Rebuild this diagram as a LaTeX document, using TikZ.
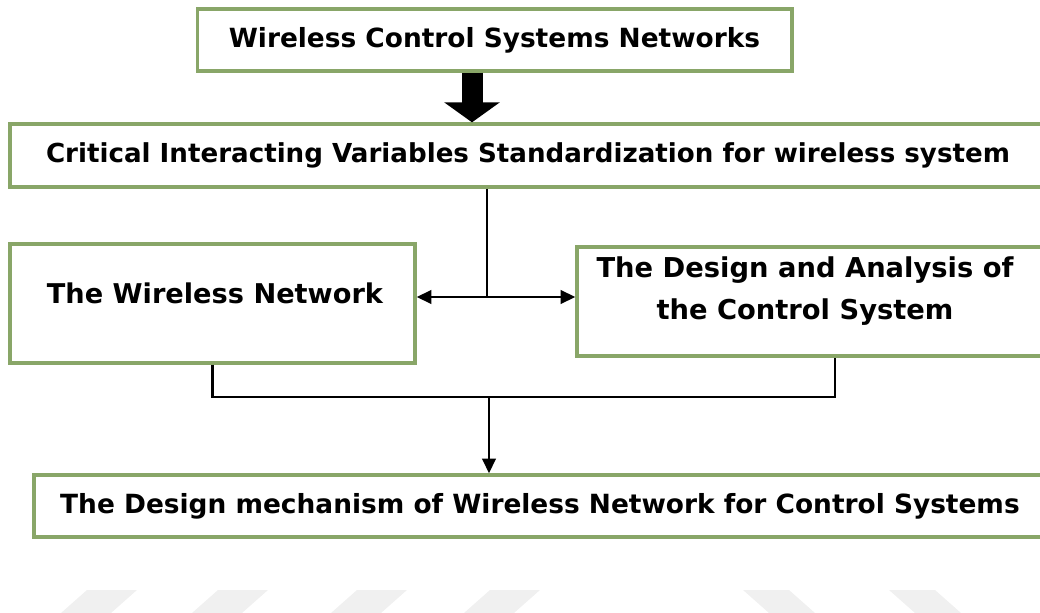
\documentclass[tikz,border=0pt]{standalone}
\usepackage{fontspec}
\setmainfont{DejaVu Sans}
\usetikzlibrary{arrows.meta, calc}

\begin{document}
\begin{tikzpicture}[x=0.75pt, y=-0.75pt, >={Triangle[length=11pt, width=10pt]}, line width=2.2pt]
  % 定义颜色
  \definecolor{boxgreen}{RGB}{137,166,104}
  \definecolor{markgray}{RGB}{240,240,240}
  \tikzset{
    block/.style={draw=boxgreen, line width=2.5pt, fill=white, inner sep=0pt, align=center},
    blocktext/.style={inner sep=0pt, align=center, font=\bfseries\fontsize{20.5}{32}\selectfont},
  }

  % 画布范围
  \useasboundingbox (0,0) rectangle (1040,613);

  % 底部水印条纹
  \foreach \x in {61,192,331,464}
    \fill[markgray] (\x,613) -- (\x+26,590) -- (\x+76,590) -- (\x+50,613) -- cycle;
  \foreach \x in {743,889}
    \fill[markgray] (\x,590) -- (\x+46,590) -- (\x+72,613) -- (\x+26,613) -- cycle;

  % 各方框
  \node[block, minimum width=446pt, minimum height=46.5pt,
        font=\bfseries\fontsize{19.8}{24}\selectfont] (wcsn) at (494.5,40)
    {Wireless Control Systems Networks};
  \node[block, minimum width=777pt, minimum height=47.25pt,
        font=\bfseries\fontsize{19.6}{23}\selectfont] (civs) at (528,155.5)
    {Critical Interacting Variables Standardization for wireless system};
  \node[block, minimum width=303.75pt, minimum height=89.25pt] (wn) at (212.5,303.5) {};
  \node[block, minimum width=351.75pt, minimum height=81.75pt] (dacs) at (811.5,301.5) {};
  \node[block, minimum width=759pt, minimum height=46.5pt,
        font=\bfseries\fontsize{19.8}{23}\selectfont] (dm) at (540,506)
    {The Design mechanism of Wireless Network for Control Systems};

  % 方框文字
  \node[blocktext, font=\bfseries\fontsize{20.4}{24}\selectfont] (wn text) at (215,293)
    {The Wireless Network};
  \node[blocktext] (dacs text) at (805,291)
    {The Design and Analysis of\\the Control System};

  % 粗箭头
  \coordinate (bigx) at (472,0);
  \draw[line width=15.75pt, -{Triangle[length=15pt, width=41pt]}]
    (wcsn.south -| bigx) -- (civs.north -| bigx);

  % 分叉箭头
  \coordinate (fork) at (487,297);
  \draw (civs.south -| fork) -- (fork);
  \draw[->] (fork) -- (fork -| wn.east);
  \draw[->] (fork) -- (fork -| dacs.west);

  % 汇合线
  \coordinate (join) at (489,397);
  \coordinate (rjoin) at (835,0);
  \draw (wn.south) |- (join) -| (dacs.south -| rjoin);
  \draw[->] (join) -- (join |- dm.north);

\end{tikzpicture}
\end{document}
